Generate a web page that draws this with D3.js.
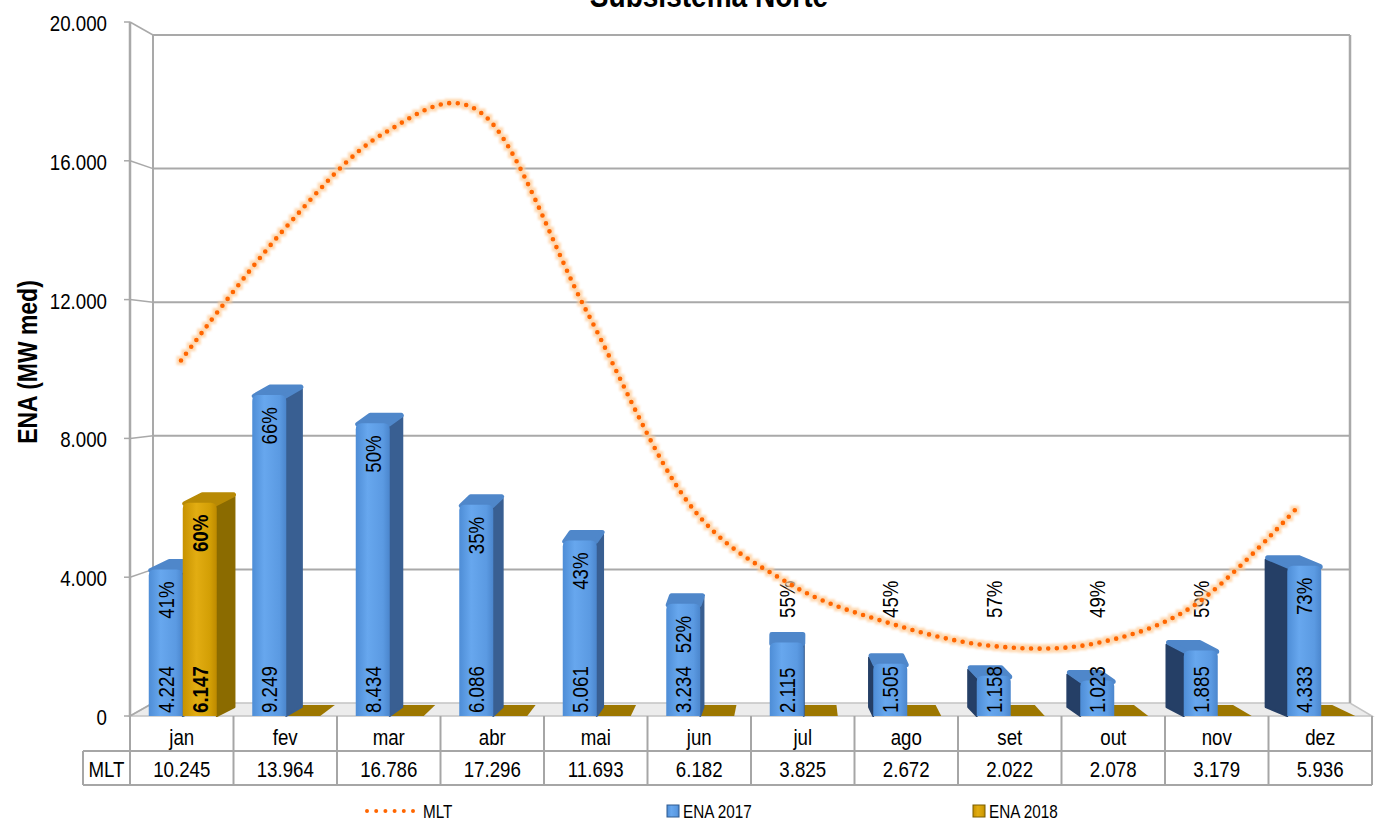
<!DOCTYPE html>
<html>
<head>
<meta charset="utf-8">
<script src="https://cdn.jsdelivr.net/npm/d3@7"></script>
<style>
  html, body { margin: 0; padding: 0; background: #fff; }
  svg { display: block; font-family: "Liberation Sans", Arial, sans-serif; }
</style>
</head>
<body>
<svg id="chart" width="1381" height="821"></svg>
<script>
// ---- data ----
const months  = ["jan", "fev", "mar", "abr", "mai", "jun", "jul", "ago", "set", "out", "nov", "dez"];
const ena2017 = [4224, 9249, 8434, 6086, 5061, 3234, 2115, 1505, 1158, 1023, 1885, 4333];
const ena2018 = [6147, null, null, null, null, null, null, null, null, null, null, null];
const mlt     = [10245, 13964, 16786, 17296, 11693, 6182, 3825, 2672, 2022, 2078, 3179, 5936];
const pct2017 = [41, 66, 50, 35, 43, 52, 55, 45, 57, 49, 59, 73];
const pct2018 = [60, null, null, null, null, null, null, null, null, null, null, null];
const yTicks  = [0, 4000, 8000, 12000, 16000, 20000];

const svg = d3.select("#chart");
const nf = d3.formatLocale({ decimal: ",", thousands: ".", grouping: [3], currency: ["", ""] }).format(",d");

// ---- frame geometry (front plane and back wall of the 3D box) ----
const F = { left: 130, right: 1372, bottom: 716, top: 22 };
const B = { left: 153, right: 1350, bottom: 703, top: 35 };
const yFront = d3.scaleLinear().domain([0, 20000]).range([F.bottom, F.top]);
const yBack  = d3.scaleLinear().domain([0, 20000]).range([B.bottom, B.top]);
const x = d3.scaleBand().domain(months).range([F.left, F.right]);
const xLine = d3.scalePoint().domain(months).range([181, 1295]);

const NARROW = 0.85;
function label(g, txt, tx, ty, opts = {}) {
  return g.append("g")
    .attr("transform", `translate(${tx},${ty})${opts.rotate ? " rotate(-90)" : ""} scale(${opts.narrow || NARROW},1)`)
    .append("text")
    .attr("x", 0).attr("y", 0)
    .attr("font-size", opts.size || 22)
    .attr("font-weight", opts.bold ? "bold" : "normal")
    .attr("text-anchor", opts.anchor || "middle")
    .attr("fill", opts.fill || "#000")
    .text(txt);
}

// ---- gradients ----
const defs = svg.append("defs");
function hGrad(id, stops) {
  const g = defs.append("linearGradient").attr("id", id).attr("x1", "0").attr("x2", "1").attr("y1", "0").attr("y2", "0");
  stops.forEach(([o, c]) => g.append("stop").attr("offset", o).attr("stop-color", c));
}
hGrad("blueFront", [["0", "#4e8dd6"], ["0.35", "#67a7ee"], ["0.8", "#5b9ae2"], ["1", "#4b86cd"]]);
hGrad("goldFront", [["0", "#c79200"], ["0.4", "#e2ad12"], ["0.8", "#d39f05"], ["1", "#be8a00"]]);
defs.append("filter").attr("id", "soft").append("feGaussianBlur").attr("stdDeviation", 0.9);

const grid = svg.append("g");
const gridColor = "#a9a9a9";

// floor
grid.append("polygon")
  .attr("points", [[F.left, F.bottom], [F.right, F.bottom], [B.right, B.bottom], [B.left, B.bottom]].join(" "))
  .attr("fill", "#ececec").attr("stroke", "#c4c4c4").attr("stroke-width", 1.5);

// back wall gridlines, side wall connectors and tick marks
yTicks.forEach(t => {
  if (t > 0) {
    grid.append("line").attr("x1", B.left).attr("x2", B.right)
      .attr("y1", yBack(t)).attr("y2", yBack(t))
      .attr("stroke", gridColor).attr("stroke-width", 2);
  }
  grid.append("line").attr("x1", F.left).attr("x2", B.left)
    .attr("y1", yFront(t)).attr("y2", yBack(t))
    .attr("stroke", gridColor).attr("stroke-width", 1.5);
  grid.append("line").attr("x1", F.left - 6).attr("x2", F.left)
    .attr("y1", yFront(t)).attr("y2", yFront(t))
    .attr("stroke", gridColor).attr("stroke-width", 1.5);
  label(svg, nf(t), 107, yFront(t) + 9, { anchor: "end" });
});
grid.append("line").attr("x1", F.left).attr("x2", F.left).attr("y1", F.top).attr("y2", F.bottom)
  .attr("stroke", gridColor).attr("stroke-width", 2.5);
grid.append("line").attr("x1", B.left).attr("x2", B.left).attr("y1", B.top).attr("y2", B.bottom)
  .attr("stroke", gridColor).attr("stroke-width", 2);
grid.append("line").attr("x1", B.right).attr("x2", B.right).attr("y1", B.top).attr("y2", B.bottom)
  .attr("stroke", gridColor).attr("stroke-width", 2.5);

// ---- bars ----
const bars = svg.append("g");
const DY = 9;
function depthDx(cx) {
  return cx < 790 ? (790 - cx) * 0.03 : (790 - cx) * 0.042;
}
function frontPath(x0, x1, yT, yB) {
  const r = Math.min(6, (yB - yT) / 2);
  return `M${x0},${yB}V${yT + r}Q${x0},${yT} ${x0 + r},${yT}H${x1 - r}Q${x1},${yT} ${x1},${yT + r}V${yB}Z`;
}
function drawBar(x0, x1, v, c) {
  const yT = yFront(v), yB = F.bottom;
  const dx = depthDx((x0 + x1) / 2);
  const g = bars.append("g");
  if (v === 0) {
    g.append("polygon")
      .attr("points", [[x0, yB], [x1, yB], [x1 + dx, yB - DY - 2], [x0 + dx, yB - DY - 2]].join(" "))
      .attr("fill", c.flat);
    return;
  }
  // side face
  const sx = dx >= 0 ? x1 : x0;
  g.append("polygon")
    .attr("points", [[sx, yT + 3], [sx + dx, yT - DY + 3], [sx + dx, yB - DY], [sx, yB]].join(" "))
    .attr("fill", dx >= 0 ? c.sideR : c.sideL)
    .attr("stroke", dx >= 0 ? c.sideR : c.sideL).attr("stroke-linejoin", "round").attr("stroke-width", 2);
  // top face
  g.append("polygon")
    .attr("points", [[x0 + 2, yT + 1], [x1 - 1, yT + 1], [x1 + dx - 1, yT - DY + 1], [x0 + dx + 2, yT - DY + 1]].join(" "))
    .attr("fill", c.top).attr("stroke", c.top).attr("stroke-linejoin", "round").attr("stroke-width", 5);
  // front face
  g.append("path").attr("d", frontPath(x0, x1, yT, yB)).attr("fill", c.front);
}
const blue = { front: "url(#blueFront)", sideR: "#395f92", sideL: "#253f66", top: "#4f87ca", flat: "#3f6da6" };
const gold = { front: "url(#goldFront)", sideR: "#8b6b00", sideL: "#7a5e00", top: "#b88a05", flat: "#9d7700" };

// zero-height 2018 footprints first (lie on the floor, behind the 2017 bars)
months.forEach((m, i) => {
  if (ena2018[i] == null) {
    const c = x(m) + x.bandwidth() / 2;
    drawBar(c + 1, c + 35, 0, gold);
  }
});
months.forEach((m, i) => {
  const c = x(m) + x.bandwidth() / 2;
  drawBar(c - 33, c + 1, ena2017[i], blue);
  if (ena2018[i] != null) drawBar(c + 1, c + 35, ena2018[i], gold);
});

// ---- bar labels ----
const labels = svg.append("g");
function barLabels(cx, v, pct, bold) {
  label(labels, nf(v), cx + 8, F.bottom - 3, { rotate: true, anchor: "start", bold });
  const yT = yFront(v);
  if (v >= 3000) {
    label(labels, pct + "%", cx + 8, yT + 12, { rotate: true, anchor: "end", bold });
  } else {
    label(labels, pct + "%", cx + 8, Math.min(yT - 14, 618), { rotate: true, anchor: "start", bold });
  }
}
months.forEach((m, i) => {
  const c = x(m) + x.bandwidth() / 2;
  barLabels(c - 16, ena2017[i], pct2017[i], false);
  if (ena2018[i] != null) barLabels(c + 18, ena2018[i], pct2018[i], true);
});

// ---- MLT smoothed dotted line ----
const lineGen = d3.line()
  .x((d, i) => xLine(months[i]))
  .y(d => yFront(d))
  .curve(d3.curveCardinal.tension(0));
const lg = svg.append("g");
lg.append("path").attr("d", lineGen(mlt)).attr("fill", "none")
  .attr("stroke", "#ffcd9a").attr("stroke-width", 9).attr("stroke-linecap", "square")
  .attr("stroke-dasharray", "0 8.6").attr("opacity", 0.75).attr("filter", "url(#soft)");
lg.append("path").attr("d", lineGen(mlt)).attr("fill", "none")
  .attr("stroke", "#ff6600").attr("stroke-width", 4.6).attr("stroke-linecap", "round")
  .attr("stroke-dasharray", "0 8.6");

// ---- data table ----
const tbl = svg.append("g");
const tColor = "#a6a6a6";
const rowTop = 716, rowMid = 751, rowBot = 785, labLeft = 83;
tbl.append("line").attr("x1", labLeft).attr("x2", F.right).attr("y1", rowMid).attr("y2", rowMid).attr("stroke", tColor).attr("stroke-width", 2);
tbl.append("line").attr("x1", labLeft).attr("x2", F.right).attr("y1", rowBot).attr("y2", rowBot).attr("stroke", tColor).attr("stroke-width", 2);
tbl.append("line").attr("x1", labLeft).attr("x2", labLeft).attr("y1", rowMid).attr("y2", rowBot).attr("stroke", tColor).attr("stroke-width", 2);
months.forEach((m, i) => {
  tbl.append("line").attr("x1", x(m)).attr("x2", x(m)).attr("y1", rowTop).attr("y2", rowBot).attr("stroke", tColor).attr("stroke-width", 2);
  const c = x(m) + x.bandwidth() / 2;
  label(tbl, m, c, 745);
  label(tbl, nf(mlt[i]), c, 777);
});
tbl.append("line").attr("x1", F.right).attr("x2", F.right).attr("y1", rowTop).attr("y2", rowBot).attr("stroke", tColor).attr("stroke-width", 2);
label(tbl, "MLT", (labLeft + F.left) / 2, 777);

// ---- axis title and chart title ----
label(svg, "ENA (MW med)", 37, 362, { rotate: true, bold: true, size: 27 });
label(svg, "Subsistema Norte", 709, 7, { bold: true, size: 33 });

// ---- legend ----
const leg = svg.append("g");
leg.append("line").attr("x1", 367).attr("x2", 415).attr("y1", 811).attr("y2", 811)
  .attr("stroke", "#ff6600").attr("stroke-width", 4).attr("stroke-linecap", "round").attr("stroke-dasharray", "0 9.2");
label(leg, "MLT", 423, 818, { anchor: "start", size: 18 });
leg.append("rect").attr("x", 667).attr("y", 805).attr("width", 12).attr("height", 12)
  .attr("fill", "url(#blueFront)").attr("stroke", "#2f5a8f").attr("stroke-width", 1);
label(leg, "ENA 2017", 683, 818, { anchor: "start", size: 18 });
leg.append("rect").attr("x", 973).attr("y", 805).attr("width", 12).attr("height", 12)
  .attr("fill", "url(#goldFront)").attr("stroke", "#7a5e00").attr("stroke-width", 1);
label(leg, "ENA 2018", 989, 818, { anchor: "start", size: 18 });
</script>
</body>
</html>
